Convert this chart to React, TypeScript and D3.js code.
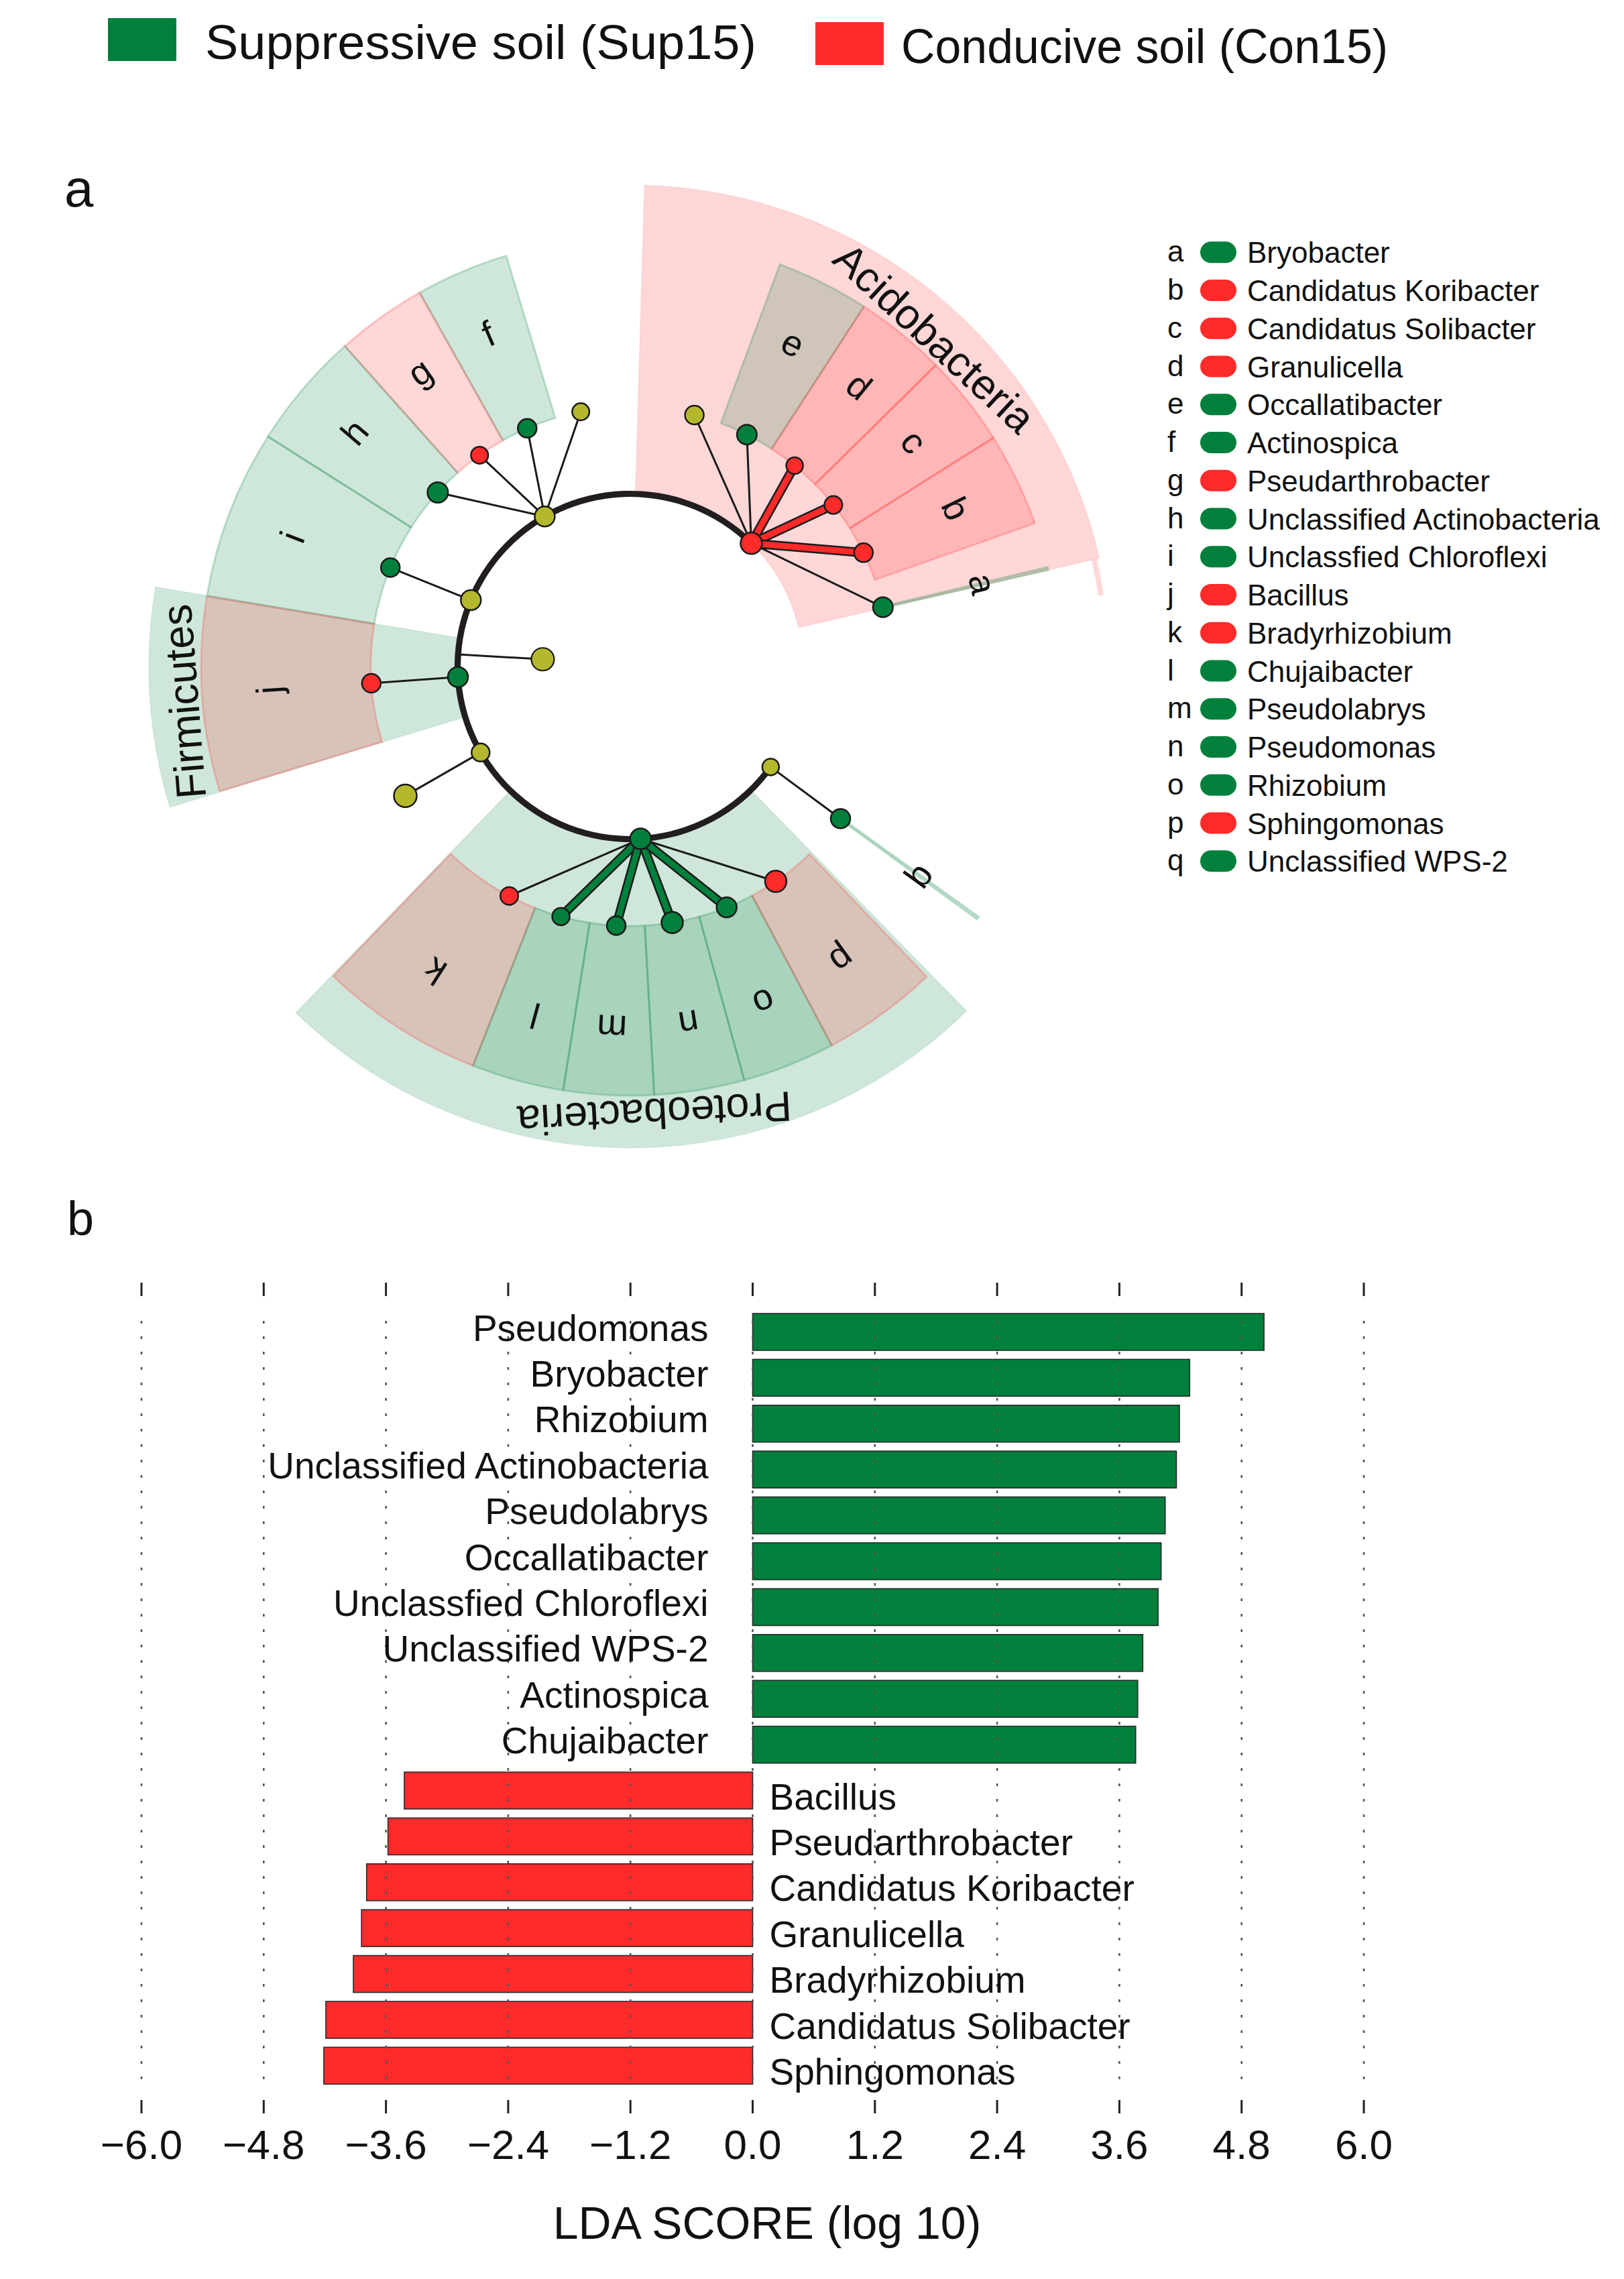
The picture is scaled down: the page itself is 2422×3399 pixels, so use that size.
import React from "react";
import * as d3 from "d3";

// ---------------- data ----------------
const groupNames = ["Suppressive soil (Sup15)", "Conducive soil (Con15)"];
const classColor: Record<string, string> = { sup: "#00803c", con: "#ff2a2a", none: "#b4b82c" };

// phylum-level nodes sitting on the ring (angle in degrees, clockwise from 3 o'clock)
const phylumNames = ["Acidobacteria", "Actinobacteria", "Chloroflexi", "Firmicutes", "Unassigned", "Proteobacteria", "WPS-2"];
const phylumAngles = [-45.5, -119.7, -157.4, 176.5, 150.1, 86.6, 35.6];
const phylumClass = ["con", "none", "none", "sup", "none", "sup", "none"];
const phylumSize = [16, 15, 15, 15, 13.5, 15.5, 12.5];

// an extra non-significant node drawn inside the ring
const innerNode = { attachAngle: -176, angle: -175.3, cls: "none", size: 17 };

// genus-level nodes
const genera = [
  { letter: "", parent: 0, angle: -75.7, cls: "none", size: 14 },
  { letter: "e", parent: 0, angle: -63.3, cls: "sup", size: 14.8 },
  { letter: "d", parent: 0, angle: -50.7, cls: "con", size: 12.5 },
  { letter: "c", parent: 0, angle: -38.5, cls: "con", size: 13.3 },
  { letter: "b", parent: 0, angle: -26.0, cls: "con", size: 14 },
  { letter: "a", parent: 0, angle: -13.2, cls: "sup", size: 14.8 },
  { letter: "h", parent: 1, angle: -137.9, cls: "sup", size: 15.3 },
  { letter: "g", parent: 1, angle: -125.5, cls: "con", size: 12.8 },
  { letter: "f", parent: 1, angle: -113.4, cls: "sup", size: 14 },
  { letter: "", parent: 1, angle: -101.0, cls: "none", size: 12.8 },
  { letter: "i", parent: 2, angle: -157.6, cls: "sup", size: 14 },
  { letter: "j", parent: 3, angle: 176.3, cls: "con", size: 14 },
  { letter: "", parent: 4, angle: 150.1, cls: "none", size: 17 },
  { letter: "k", parent: 5, angle: 117.8, cls: "con", size: 13.3 },
  { letter: "l", parent: 5, angle: 105.5, cls: "sup", size: 13 },
  { letter: "m", parent: 5, angle: 93.1, cls: "sup", size: 14 },
  { letter: "n", parent: 5, angle: 80.7, cls: "sup", size: 16 },
  { letter: "o", parent: 5, angle: 68.2, cls: "sup", size: 15 },
  { letter: "p", parent: 5, angle: 55.9, cls: "con", size: 16 },
  { letter: "q", parent: 6, angle: 35.9, cls: "sup", size: 14.5 },
];

// shaded clade sectors (angular spans in degrees)
const genusSectors = [
  { letter: "e", cls: "sup", from: -69.6, to: -57.0 },
  { letter: "d", cls: "con", from: -57.0, to: -44.6 },
  { letter: "c", cls: "con", from: -44.6, to: -32.2 },
  { letter: "b", cls: "con", from: -32.2, to: -19.5 },
  { letter: "a", cls: "sup", from: -13.4, to: -13.0 },
  { letter: "f", cls: "sup", from: -119.4, to: -106.8 },
  { letter: "g", cls: "con", from: -131.7, to: -119.4 },
  { letter: "h", cls: "sup", from: -147.6, to: -131.7 },
  { letter: "i", cls: "sup", from: -170.5, to: -147.6 },
  { letter: "j", cls: "con", from: 163.1, to: 189.4 },
  { letter: "k", cls: "con", from: 111.5, to: 133.8 },
  { letter: "l", cls: "sup", from: 99.0, to: 111.5 },
  { letter: "m", cls: "sup", from: 86.8, to: 99.0 },
  { letter: "n", cls: "sup", from: 74.6, to: 86.8 },
  { letter: "o", cls: "sup", from: 62.0, to: 74.6 },
  { letter: "p", cls: "con", from: 46.3, to: 62.0 },
  { letter: "q", cls: "sup", from: 35.7, to: 36.1 },
];
const phylumSectors = [
  { name: "Acidobacteria", cls: "con", from: -88.3, to: -13.0, labelAngle: -47.2 },
  { name: "Firmicutes", cls: "sup", from: 163.0, to: 189.5, labelAngle: 175.5 },
  { name: "Proteobacteria", cls: "sup", from: 45.7, to: 134.0, labelAngle: 86.9 },
];
const acidoTail = { cls: "con", from: -13.0, to: -8.6 };

// right-hand key
const keyLetters = ["a", "b", "c", "d", "e", "f", "g", "h", "i", "j", "k", "l", "m", "n", "o", "p", "q"];
const keyNames = [
  "Bryobacter", "Candidatus Koribacter", "Candidatus Solibacter", "Granulicella", "Occallatibacter",
  "Actinospica", "Pseudarthrobacter", "Unclassified Actinobacteria", "Unclassfied Chloroflexi", "Bacillus",
  "Bradyrhizobium", "Chujaibacter", "Pseudolabrys", "Pseudomonas", "Rhizobium", "Sphingomonas", "Unclassified WPS-2",
];
const keyClass = ["sup", "con", "con", "con", "sup", "sup", "con", "sup", "sup", "con", "con", "sup", "sup", "sup", "sup", "con", "sup"];

// LDA bar chart
const barTaxa = [
  "Pseudomonas", "Bryobacter", "Rhizobium", "Unclassified Actinobacteria", "Pseudolabrys", "Occallatibacter",
  "Unclassfied Chloroflexi", "Unclassified WPS-2", "Actinospica", "Chujaibacter",
  "Bacillus", "Pseudarthrobacter", "Candidatus Koribacter", "Granulicella", "Bradyrhizobium", "Candidatus Solibacter", "Sphingomonas",
];
const ldaScores = [5.02, 4.29, 4.19, 4.16, 4.05, 4.01, 3.98, 3.83, 3.78, 3.76, -3.42, -3.58, -3.79, -3.84, -3.92, -4.19, -4.21];
const ldaTicks = [-6.0, -4.8, -3.6, -2.4, -1.2, 0.0, 1.2, 2.4, 3.6, 4.8, 6.0];

// ---------------- layout ----------------
const W = 2422, H = 3399;
const FONT = "'Liberation Sans', Arial, Helvetica, sans-serif";
const CX = 940, CY = 994;
const R_INNER = 131, R_RING = 257.5, R_GENUS = 387, R_SECTOR_OUT = 640, R_PHYLUM_OUT = 718;
const R_GENUS_LABEL = 540, R_PHYLUM_LABEL = 668;
const SHADE = 0.19;

const rad = (deg: number) => (deg * Math.PI) / 180;
const polar = (r: number, deg: number): [number, number] => [CX + r * Math.cos(rad(deg)), CY + r * Math.sin(rad(deg))];
const arcGen = d3.arc<any>();
const sector = (r0: number, r1: number, a0: number, a1: number) =>
  arcGen({ innerRadius: r0, outerRadius: r1, startAngle: rad(a0 + 90), endAngle: rad(a1 + 90) }) as string;

function Cladogram() {
  const ring = sector(R_RING - 4.6, R_RING + 4.6, phylumAngles[6], phylumAngles[0] + 360);
  return (
    <g>
      <g transform={`translate(${CX},${CY})`}>
        {phylumSectors.map((s) => (
          <path key={s.name} d={sector(R_RING, R_PHYLUM_OUT, s.from, s.to)} fill={classColor[s.cls]} fillOpacity={SHADE}
            stroke={classColor[s.cls]} strokeOpacity={0.08} strokeWidth={2} />
        ))}
        <path d={sector(R_PHYLUM_OUT - 12, R_PHYLUM_OUT - 4, acidoTail.from, acidoTail.to)} fill={classColor[acidoTail.cls]} fillOpacity={SHADE} />
        {genusSectors.map((s) => (
          <path key={s.letter} d={sector(R_GENUS, R_SECTOR_OUT, s.from, s.to)} fill={classColor[s.cls]} fillOpacity={SHADE}
            stroke={classColor[s.cls]} strokeOpacity={0.22} strokeWidth={3} />
        ))}
      </g>
      {genusSectors.map((s) => {
        const a = (s.from + s.to) / 2;
        const [x, y] = polar(R_GENUS_LABEL, a);
        return (
          <text key={"l" + s.letter} transform={`translate(${x},${y}) rotate(${a + 90})`} textAnchor="middle"
            dominantBaseline="central" fontSize={54} fontFamily={FONT} fill="#111">{s.letter}</text>
        );
      })}
      {phylumSectors.map((s) => {
        const [x, y] = polar(R_PHYLUM_LABEL, s.labelAngle);
        return (
          <text key={"p" + s.name} transform={`translate(${x},${y}) rotate(${s.labelAngle + 90})`} textAnchor="middle"
            dominantBaseline="central" fontSize={63} fontFamily={FONT} fill="#111">{s.name}</text>
        );
      })}
      <path d={ring} transform={`translate(${CX},${CY})`} fill="#221e1f" />
      {/* edges */}
      {(() => {
        const [x1, y1] = polar(R_RING, innerNode.attachAngle);
        const [x2, y2] = polar(R_INNER, innerNode.angle);
        return <line x1={x1} y1={y1} x2={x2} y2={y2} stroke="#1a1a1a" strokeWidth={3} />;
      })()}
      {genera.map((g, i) => {
        const [x1, y1] = polar(R_RING, phylumAngles[g.parent]);
        const [x2, y2] = polar(R_GENUS, g.angle);
        const thick = g.cls !== "none" && g.cls === phylumClass[g.parent];
        return thick ? (
          <g key={"e" + i}>
            <line x1={x1} y1={y1} x2={x2} y2={y2} stroke="#1a1a1a" strokeWidth={14} />
            <line x1={x1} y1={y1} x2={x2} y2={y2} stroke={classColor[g.cls]} strokeWidth={9} />
          </g>
        ) : (
          <line key={"e" + i} x1={x1} y1={y1} x2={x2} y2={y2} stroke="#1a1a1a" strokeWidth={3} />
        );
      })}
      {/* nodes */}
      {(() => {
        const [x, y] = polar(R_INNER, innerNode.angle);
        return <circle cx={x} cy={y} r={innerNode.size} fill={classColor[innerNode.cls]} stroke="#1a1a1a" strokeWidth={2.2} />;
      })()}
      {genera.map((g, i) => {
        const [x, y] = polar(R_GENUS, g.angle);
        return <circle key={"n" + i} cx={x} cy={y} r={g.size} fill={classColor[g.cls]} stroke="#1a1a1a" strokeWidth={2.5} />;
      })}
      {phylumNames.map((p, i) => {
        const [x, y] = polar(R_RING, phylumAngles[i]);
        return <circle key={p} cx={x} cy={y} r={phylumSize[i]} fill={classColor[phylumClass[i]]} stroke="#1a1a1a" strokeWidth={2.5} />;
      })}
    </g>
  );
}

function Key() {
  const y0 = 376.3, step = 56.75;
  return (
    <g fontFamily={FONT} fill="#111">
      {keyLetters.map((l, i) => {
        const yc = y0 + i * step;
        return (
          <g key={l}>
            <text x={1741} y={yc + 14} fontSize={44}>{l}</text>
            <rect x={1790} y={yc - 16} width={54} height={32} rx={16} fill={classColor[keyClass[i]]} />
            <text x={1860} y={yc + 16} fontSize={44}>{keyNames[i]}</text>
          </g>
        );
      })}
    </g>
  );
}

function BarChart() {
  const x = d3.scaleLinear().domain([-6, 6]).range([211, 2034]);
  const y = d3.scaleBand().domain(barTaxa).range([1952.3, 3115.1]).paddingInner(0.196).paddingOuter(0.098);
  const fmt = (v: number) => (v < 0 ? "\u2212" + Math.abs(v).toFixed(1) : v.toFixed(1));
  return (
    <g fontFamily={FONT}>
      {barTaxa.map((t, i) => {
        const v = ldaScores[i];
        const x0 = x(Math.min(0, v)), x1 = x(Math.max(0, v));
        return (
          <rect key={t} x={x0} y={y(t)} width={x1 - x0} height={y.bandwidth()}
            fill={v > 0 ? classColor.sup : classColor.con} stroke="#2a2a2a" strokeWidth={1.6} />
        );
      })}
      {ldaTicks.map((t) => (
        <g key={t}>
          <line x1={x(t)} x2={x(t)} y1={1970} y2={3112} stroke="#555" strokeWidth={2.6} strokeDasharray="4 19" />
          <line x1={x(t)} x2={x(t)} y1={1913} y2={1933} stroke="#222" strokeWidth={3} />
          <line x1={x(t)} x2={x(t)} y1={3132} y2={3152} stroke="#222" strokeWidth={3} />
          <text x={x(t)} y={3220} textAnchor="middle" fontSize={62} fill="#111">{fmt(t)}</text>
        </g>
      ))}
      {barTaxa.map((t, i) => {
        const v = ldaScores[i];
        const yc = (y(t) as number) + y.bandwidth() / 2;
        return v > 0 ? (
          <text key={"t" + t} x={x(0) - 66} y={yc + 13} textAnchor="end" fontSize={55} fill="#111">{t}</text>
        ) : (
          <text key={"t" + t} x={x(0) + 25} y={yc + 28} textAnchor="start" fontSize={55} fill="#111">{t}</text>
        );
      })}
      <text x={1144} y={3339} textAnchor="middle" fontSize={68} fill="#111">LDA SCORE (log 10)</text>
    </g>
  );
}

export default function App() {
  return (
    <svg width={W} height={H} viewBox={`0 0 ${W} ${H}`} style={{ position: "absolute", left: 0, top: 0, background: "#fff" }}>
      <rect width={W} height={H} fill="#fff" />
      {/* group legend */}
      <g fontFamily={FONT} fill="#111" fontSize={72}>
        <rect x={161} y={27} width={102} height={64} fill={classColor.sup} />
        <text x={306} y={88} textLength={822} lengthAdjust="spacingAndGlyphs">{groupNames[0]}</text>
        <rect x={1216} y={33} width={102} height={64} fill={classColor.con} />
        <text x={1344} y={94} textLength={726} lengthAdjust="spacingAndGlyphs">{groupNames[1]}</text>
      </g>
      <text x={96} y={308} fontSize={78} fontFamily={FONT} fill="#111">a</text>
      <text x={100} y={1842} fontSize={72} fontFamily={FONT} fill="#111">b</text>
      <Cladogram />
      <Key />
      <BarChart />
    </svg>
  );
}
